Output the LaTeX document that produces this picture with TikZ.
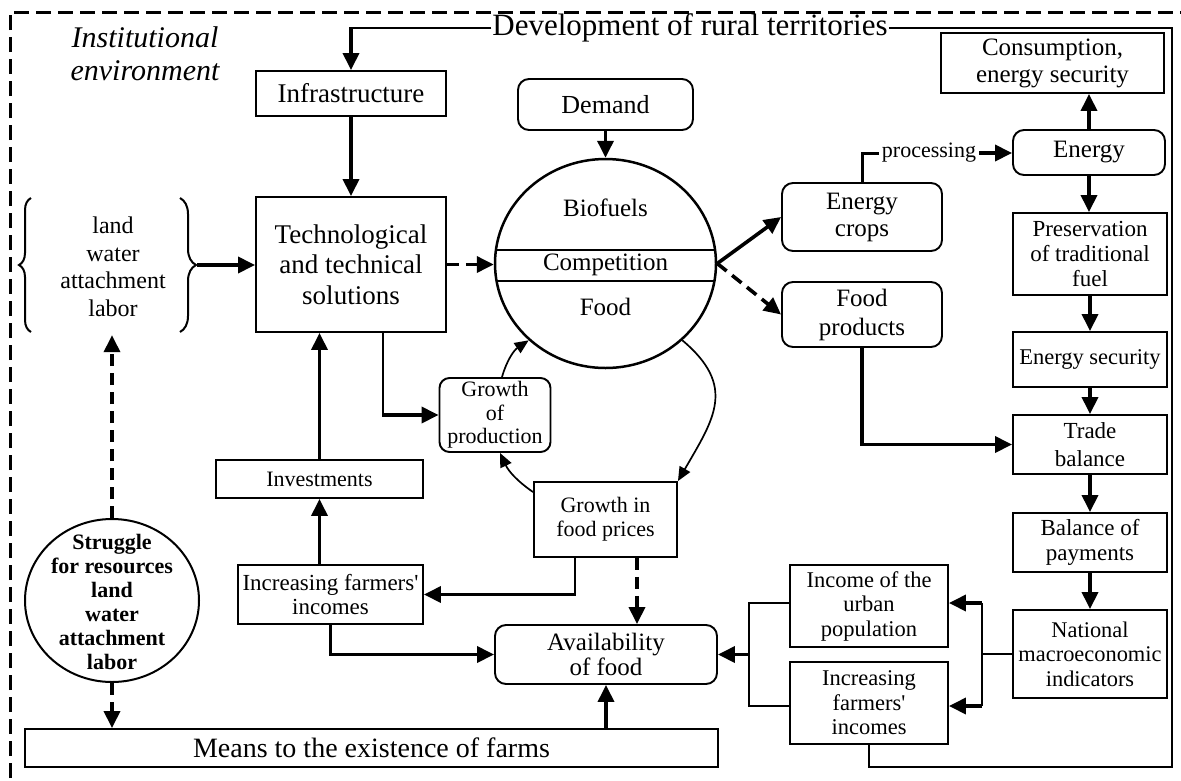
\documentclass[tikz,border=0pt]{standalone}
\usepackage{fontspec}
\setmainfont{Liberation Serif}[Ligatures=TeXOff]
\usetikzlibrary{arrows.meta,shapes.geometric,decorations.pathreplacing,calc}
\newcommand{\fsz}[2]{\fontsize{#1}{#2}\selectfont}
\tikzset{
  box/.style={draw, line width=1.9pt, align=center, inner sep=0pt},
  rbox/.style={box, rounded corners=11pt},
  atip/.style={-{Triangle[length=17pt,width=16pt]}},
  thk/.style={line width=3.6pt, atip},
  thn/.style={line width=1.6pt},
  thnarr/.style={line width=1.7pt, -{Triangle[length=14pt,width=12pt]}},
  dsh/.style={line width=3.6pt, dash pattern=on 12pt off 7pt, atip},
}
\begin{document}
\begin{tikzpicture}[x=1pt,y=-1pt]
\useasboundingbox (0,0) rectangle (1181,780);
% outer dashed frame (institutional environment)
\draw[line width=3pt, dash pattern=on 15pt off 7pt] (10,800) -- (10,12) -- (1200,12);

% nodes
\node[font=\fsz{31}{36}, inner sep=1pt] (dev) at (690,28) {Development of rural territories};
\node[font=\itshape\fsz{30}{33}, align=center] (inst) at (145,54) {Institutional\\environment};
\node[box, minimum width=190pt, minimum height=45pt, font=\fsz{27}{31}] (infra) at (351,93.5) {Infrastructure};
\node[box, minimum width=190pt, minimum height=135pt, font=\fsz{27}{30.5}] (tech) at (351,264.5) {Technological\\and technical\\solutions};
\node[align=center, font=\fsz{24}{27.5}, minimum height=136pt, minimum width=140pt, inner sep=0pt] (res) at (113,267) {land\\water\\attachment\\labor};
\draw[line width=2pt, decorate, decoration={brace, amplitude=12pt}] (31,332) -- (31,198);
\draw[line width=2pt, decorate, decoration={brace, amplitude=16pt}] (180,198) -- (180,332);
\coordinate (brt) at (197,265);

\node[draw, ellipse, line width=2.5pt, minimum width=221pt, minimum height=209pt, inner sep=0pt] (circ) at (605.5,263.5) {};
\begin{scope}
\clip (605.5,263.5) ellipse [x radius=110.5pt, y radius=104.5pt];
\draw[thn] (480,250) -- (730,250) (480,281) -- (730,281);
\end{scope}
\node[font=\fsz{25}{28}] (biof) at (605.5,208) {Biofuels};
\node[font=\fsz{25}{28}] (comp) at (605.5,265) {Competition};
\node[font=\fsz{25}{28}] (foodl) at (605.5,307) {Food};

\node[rbox, minimum width=175pt, minimum height=51pt, font=\fsz{26}{29}] (demand) at (605.5,104.5) {Demand};
\node[rbox, minimum width=160pt, minimum height=68pt, font=\fsz{25}{27}] (crops) at (862,217) {Energy\\crops};
\node[rbox, minimum width=160pt, minimum height=65pt, font=\fsz{25}{29}] (foodp) at (862,314.5) {Food\\products};
\node[font=\fsz{22}{25}, inner sep=3pt] (proc) at (929,153) {processing};
\node[rbox, minimum width=152pt, minimum height=45pt, font=\fsz{25}{28}] (energy) at (1089,152.5) {Energy};
\node[box, minimum width=223pt, minimum height=60pt, font=\fsz{25}{27}] (cons) at (1052.5,63) {Consumption,\\energy security};
\node[box, minimum width=154pt, minimum height=82pt, font=\fsz{23}{25}] (pres) at (1090,254) {Preservation\\of traditional\\fuel};
\node[box, minimum width=154pt, minimum height=55pt, font=\fsz{22.5}{25}] (esec) at (1090,359.5) {Energy security};
\node[box, minimum width=154pt, minimum height=59pt, font=\fsz{23}{28}] (trade) at (1090,444.5) {Trade\\balance};
\node[box, minimum width=154pt, minimum height=59pt, font=\fsz{23}{25}] (bop) at (1090,542.5) {Balance of\\payments};
\node[box, minimum width=154pt, minimum height=88pt, font=\fsz{22.4}{24.5}] (nat) at (1090,654) {National\\macroeconomic\\indicators};
\node[box, minimum width=158pt, minimum height=82pt, font=\fsz{22.5}{24.5}] (urban) at (869,606) {Income of the\\urban\\population};
\node[box, minimum width=158pt, minimum height=82pt, font=\fsz{22.5}{24.5}] (inc2) at (869,703) {Increasing\\farmers'\\incomes};
\node[rbox, minimum width=222pt, minimum height=59pt, font=\fsz{25}{25}] (avail) at (606,654.5) {Availability\\of food};
\node[box, minimum width=693pt, minimum height=38pt, font=\fsz{28}{30}] (means) at (371.5,748) {Means to the existence of farms};
\node[box, rounded corners=10pt, minimum width=111pt, minimum height=74pt, font=\fsz{22}{23.5}] (gprod) at (495,415) {Growth\\of\\production};
\node[box, minimum width=143pt, minimum height=75pt, font=\fsz{22}{24}] (gfp) at (605.5,519.5) {Growth in\\food prices};
\node[box, minimum width=207pt, minimum height=38pt, font=\fsz{22}{24}] (invest) at (319.5,479) {Investments};
\node[box, minimum width=185pt, minimum height=59pt, font=\fsz{23}{24}] (inc1) at (330.5,594.5) {Increasing farmers'\\incomes};
\node[draw, ellipse, line width=2pt, minimum width=174pt, minimum height=163pt, inner sep=0pt] (strug) at (112,600.5) {};
\node[font=\bfseries\fsz{22}{24}, align=center] (strugt) at (112,602) {Struggle\\for resources\\land\\water\\attachment\\labor};

% connectors
\coordinate (devc) at (infra.north |- dev.west);
\draw[line width=2pt] (dev.west) -- (devc);
\draw[thk] ([yshift=1pt]devc) -- (infra.north);
\coordinate (rc) at (1172,767);
\draw[line width=2pt] (dev.east) -| (rc) -| (inc2.south);

\draw[thk] (infra.south) -- (tech.north);
\draw[thk] (brt) -- (brt -| tech.west);
\draw[dsh] (tech.east) -- (tech.east -| circ.west);
\draw[thk] (demand.south) -- (circ.north);
\draw[thk] (circ.east) -- (crops.west);
\draw[dsh] (circ.east) -- (foodp.west);
\draw[line width=3pt] (crops.north) |- (proc.west);
\draw[thk] (proc.east) -- (proc.east -| energy.west);
\draw[thk] (energy.north) -- (energy.north |- cons.south);
\draw[thk] (energy.south) -- (energy.south |- pres.north);
\draw[thk] (pres.south) -- (esec.north);
\draw[thk] (esec.south) -- (trade.north);
\draw[thk] (trade.south) -- (bop.north);
\draw[thk] (bop.south) -- (nat.north);
\draw[thk] (foodp.south) |- (trade.west);

% right bracket
\coordinate (rbt) at (982,603);
\coordinate (rbb) at (982,706);
\draw[thn] (nat.west) -- (nat.west -| rbt);
\draw[thn] (rbt) -- (rbb);
\draw[thk] (rbt) -- (rbt -| urban.east);
\draw[thk] (rbb) -- (rbb -| inc2.east);
% left bracket
\coordinate (lbt) at (749,603);
\coordinate (lbb) at (749,706);
\draw[thn] (lbt -| urban.west) -- (lbt) -- (lbb) -- (lbb -| inc2.west);
\draw[thk] (avail.east -| lbt) -- (avail.east);

\draw[thk] (avail.south |- means.north) -- (avail.south);

\coordinate (g1) at ([xshift=-30.5pt]gfp.south);
\coordinate (g2) at (g1 |- inc1.east);
\draw[thn] (g1) -- (g2);
\draw[thk] ([xshift=0.8pt]g2) -- (inc1.east);
\coordinate (g3) at ([xshift=31.5pt]gfp.south);
\draw[dsh] (g3) -- (g3 |- avail.north);

\draw[thk] (inc1.north -| invest.south) -- (invest.south);
\draw[thk] (invest.north) -- (invest.north |- tech.south);
\draw[thk] (inc1.south) |- (avail.west);

\coordinate (t1) at ([xshift=32pt]tech.south);
\draw[thn] (t1) -- (t1 |- gprod.west);
\draw[thk] ([xshift=-0.8pt]t1 |- gprod.west) -- (gprod.west);

\draw[thnarr] ([xshift=7pt]gprod.north) to[bend left=20] (circ.225);
\draw[thnarr] (circ.-45) to[out=-40, in=60, looseness=1.3] (gfp.north east);
\coordinate (g4) at ([yshift=-11pt]gfp.north west);
\draw[thnarr] (g4) to[bend left=15] ([xshift=5pt]gprod.south);

\draw[dsh] (strug.north) -- (strug.north |- res.south);
\draw[dsh] (strug.south) -- (strug.south |- means.north);
\end{tikzpicture}
\end{document}
